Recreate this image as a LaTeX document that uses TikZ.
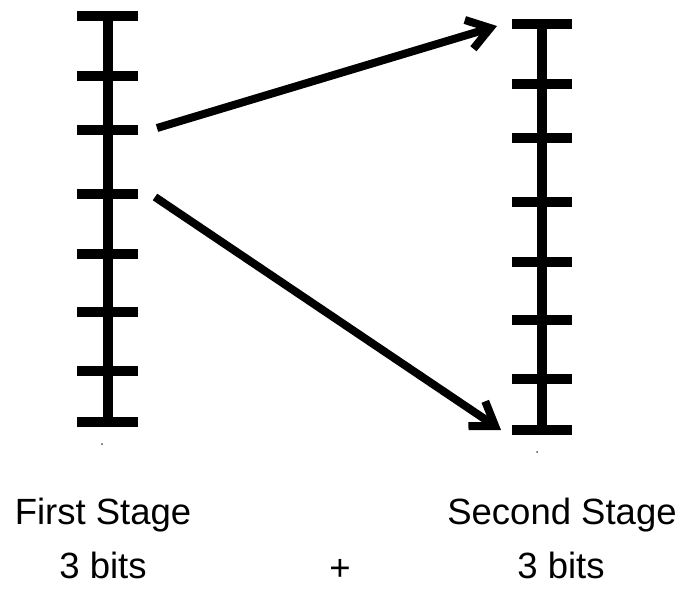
\documentclass[tikz,border=0pt]{standalone}
\usepackage{fontspec}
\setmainfont{Liberation Sans}
\usetikzlibrary{arrows.meta}
\tikzset{
  bar/.style={line width=10pt, line cap=butt},
  tick/.style={line width=10pt, line cap=butt},
  conn/.style={line width=8pt, -{Straight Barb[length=22pt,width=30pt]}},
  lbl/.style={inner sep=0pt, anchor=base, font=\fontsize{36.5}{40}\selectfont},
  speck/.style={fill=black!70, draw=none}
}
\begin{document}
\begin{tikzpicture}[x=1pt,y=-1pt]
\useasboundingbox (0,0) rectangle (683,589);
% left scale
\foreach \y [count=\i] in {16,76,130,194,254,312,371,422}{
  \coordinate (L\i) at (107.5,\y);
  \draw[tick] (77,\y) -- (138,\y);
}
\draw[bar] (L1) -- (L8);
% right scale
\foreach \y [count=\i] in {24,84,138,202,262,320,379,430}{
  \coordinate (R\i) at (542,\y);
  \draw[tick] (512,\y) -- (572,\y);
}
\draw[bar] (R1) -- (R8);
% arrows
\coordinate (s1) at (157,128);
\coordinate (e1) at (497,26);
\coordinate (s2) at (155,197);
\coordinate (e2) at (501,430);
\draw[conn] (s1) -- (e1);
\draw[conn] (s2) -- (e2);
% specks
\fill[speck] (102,444) circle (1);
\fill[speck] (537,452) circle (1);
% labels
\node[lbl] (t1) at (103,524) {First Stage};
\node[lbl] (b1) at (103,578) {3 bits};
\node[lbl] (t2) at (562,524) {Second Stage};
\node[lbl] (b2) at (561,578) {3 bits};
\node[lbl] (plus) at (340,580) {+};
\end{tikzpicture}
\end{document}
